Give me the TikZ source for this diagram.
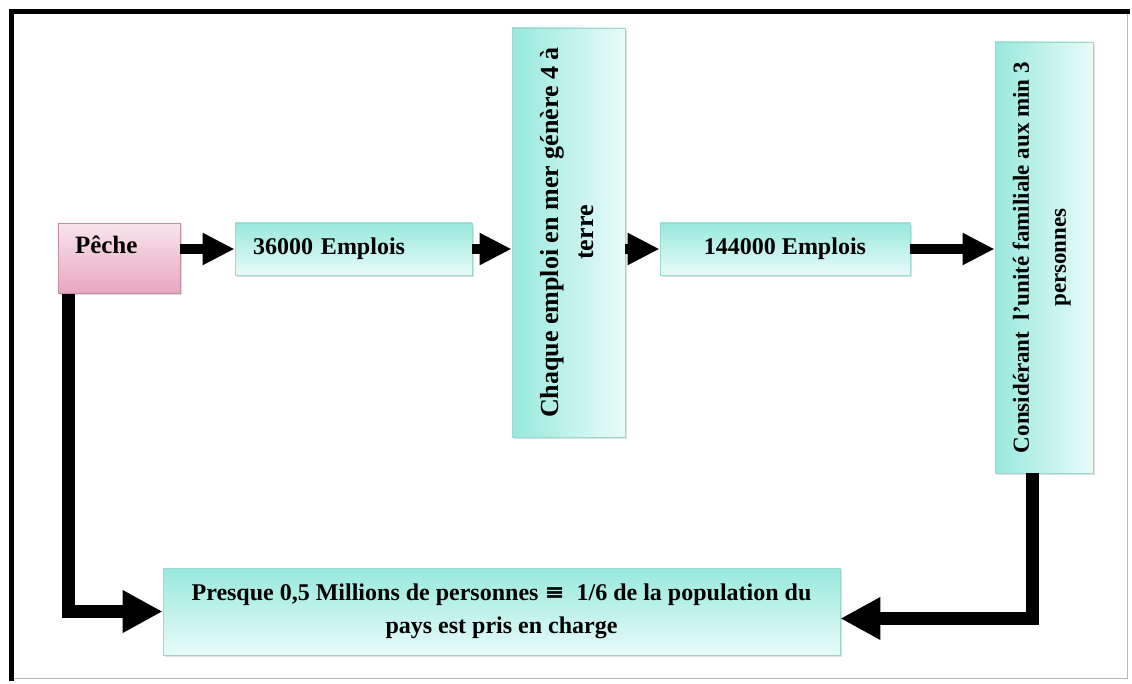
\documentclass[tikz,border=0pt]{standalone}
\usepackage{fontspec}
\setmainfont{Liberation Serif}
\newfontfamily\symf{DejaVu Serif}
\usetikzlibrary{arrows.meta,shadows}
\definecolor{cyanA}{HTML}{98E9DD}
\definecolor{cyanB}{HTML}{E8FBF8}
\definecolor{cyanD}{HTML}{9FD6CE}
\definecolor{pinkA}{HTML}{F8E4EC}
\definecolor{pinkB}{HTML}{E7A6C0}
\definecolor{pinkD}{HTML}{C58DA5}
\tikzset{
  boxbase/.style={draw, line width=0.8pt, inner sep=0pt,
    drop shadow={shadow xshift=2pt, shadow yshift=-2pt, opacity=0.25},
    font=\fontsize{24}{34}\selectfont\bfseries},
  cyanh/.style={boxbase, draw=cyanD, top color=cyanA, bottom color=cyanB},
  cyanv/.style={boxbase, draw=cyanD, left color=cyanA, right color=cyanB},
  pinkbox/.style={boxbase, draw=pinkD, top color=pinkA, bottom color=pinkB},
  flow/.style={line width=10pt, -{Triangle[length=32pt,width=30pt]}},
  loopline/.style={line width=13pt, line join=miter, -{Triangle[length=40pt,width=40pt]}}
}
\begin{document}
\begin{tikzpicture}[x=1pt,y=-1pt]
\useasboundingbox (0,0) rectangle (1132,684);
% frame
\draw[gray!55, line width=1pt] (11,12) rectangle (1127,678);
\draw[line width=5pt, line cap=rect] (11,678) -- (11,12) -- (1127,12);

% nodes
\node[pinkbox, minimum width=122pt, minimum height=70pt, text width=88pt, align=left,
      text height=15pt, text depth=25pt, font=\fontsize{25}{34}\selectfont\bfseries] (peche) at (119,258.5) {Pêche};
\node[cyanh, minimum width=237pt, minimum height=52pt, text width=201pt, align=left] (e1) at (353.5,249) {36000 Emplois};
\node[cyanv, minimum width=113pt, minimum height=409pt] (chaque) at (568.5,232.5)
  {\rotatebox{90}{\fontsize{26}{35}\selectfont\begin{tabular}{@{}c@{}}Chaque emploi en mer génère 4 à\\terre\end{tabular}}};
\node[cyanh, minimum width=250pt, minimum height=52pt] (e2) at (785,249) {144000 Emplois};
\node[cyanv, minimum width=98pt, minimum height=431pt] (consid) at (1044,257.5)
  {\hspace*{-8pt}\rotatebox{90}{\fontsize{23}{37}\selectfont\begin{tabular}{@{}c@{}}Considérant\ \ l'unité familiale aux min 3\\personnes\end{tabular}}};
\node[cyanh, minimum width=677pt, minimum height=87pt, align=center,
      font=\fontsize{24}{33}\selectfont\bfseries] (bottom) at (501.5,611.5)
  {Presque 0,5 Millions de personnes {\symf ≡}\ \ 1/6 de la population du\\pays est pris en charge};

% connectors
\draw[flow] (peche.east |- e1.west) -- (e1.west);
\draw[flow] (e1.east) -- (e1.east -| chaque.west);
\draw[flow] (chaque.east |- e2.west) -- (e2.west);
\draw[flow] (e2.east) -- (e2.east -| consid.west);
\draw[loopline] ([xshift=11pt]peche.south west) |- (bottom.west);
\draw[loopline] ([xshift=-12pt]consid.south) |- ([yshift=-7pt]bottom.east);
\end{tikzpicture}
\end{document}
